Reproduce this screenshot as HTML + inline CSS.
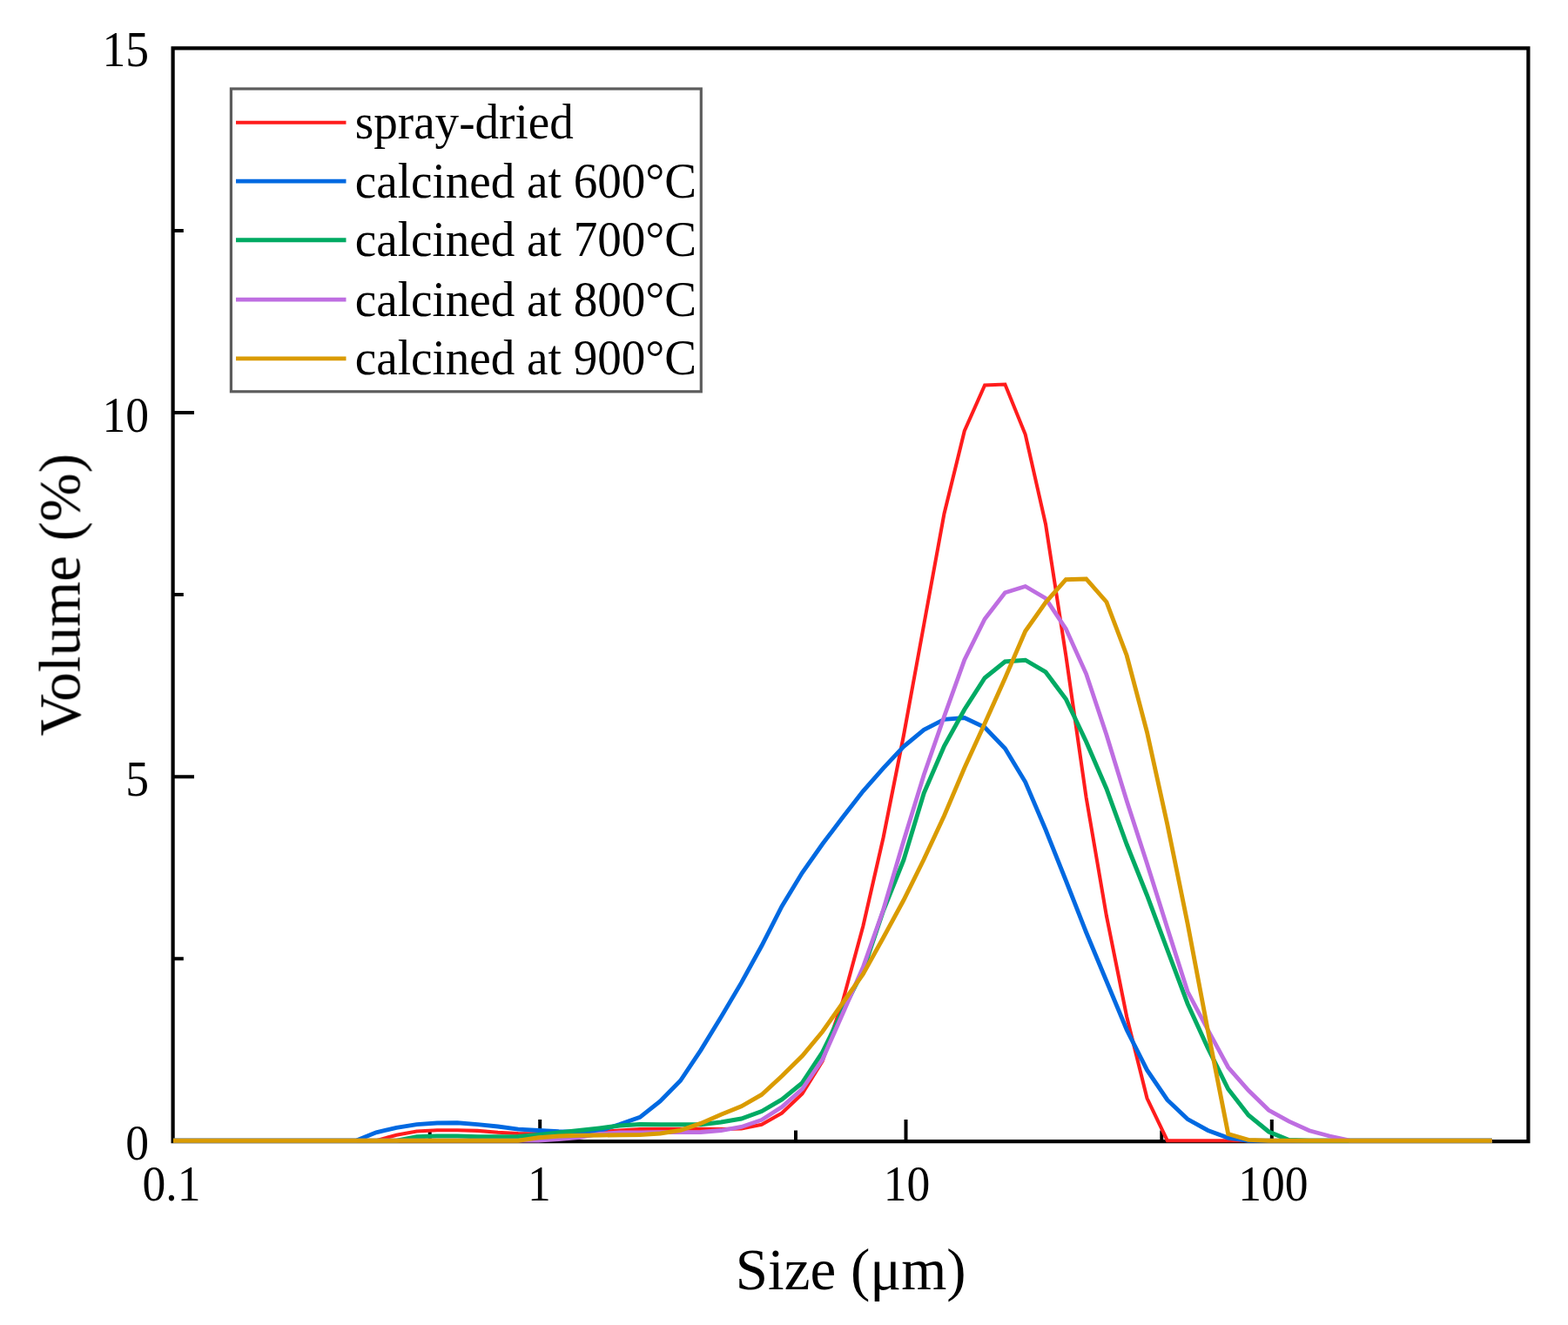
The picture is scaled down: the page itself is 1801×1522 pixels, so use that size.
<!DOCTYPE html>
<html><head><meta charset="utf-8"><title>Particle size distribution</title>
<style>html,body{margin:0;padding:0;background:#fff;}svg{display:block;}
text{font-family:"Liberation Serif","Times New Roman",serif;fill:#000;}</style></head>
<body>
<svg width="1801" height="1522" viewBox="0 0 1801 1522">
<defs><filter id="soft" filterUnits="userSpaceOnUse" x="0" y="0" width="1801" height="1522"><feGaussianBlur stdDeviation="0.55"/></filter></defs>
<rect width="1801" height="1522" fill="#fff"/>
<g filter="url(#soft)">
<path d="M198.6 892.2H223.0M198.6 474.1H223.0M198.6 1101.2H210.8M198.6 683.1H210.8M198.6 265.0H210.8M620.2 1311.2V1285.9M1040.5 1311.2V1285.9M1460.8 1311.2V1285.9M493.7 1311.2V1298.5M914.0 1311.2V1298.5M1334.3 1311.2V1298.5" stroke="#000" stroke-width="4" fill="none"/>
<path d="M198.6 55.4H1755.4V1311.2H198.6Z" fill="none" stroke="#000" stroke-width="4.2" stroke-linejoin="miter"/>
<polyline points="199.0,1310.2 222.3,1310.2 245.6,1310.2 268.9,1310.2 292.2,1310.2 315.5,1310.2 338.8,1310.2 362.1,1310.2 385.5,1310.2 408.8,1310.2 432.1,1310.2 455.4,1303.8 478.7,1299.5 502.0,1298.3 525.3,1298.3 548.6,1298.9 571.9,1300.8 595.2,1302.0 618.5,1302.3 641.8,1302.0 665.1,1301.0 688.4,1300.0 711.7,1298.5 735.0,1297.0 758.3,1296.7 781.6,1296.7 804.9,1296.7 828.2,1297.0 851.5,1296.5 874.8,1291.7 898.1,1278.5 921.4,1256.5 944.7,1218.9 968.0,1150.0 991.3,1064.0 1014.6,962.0 1037.9,845.0 1061.2,717.5 1084.5,590.0 1107.8,495.0 1131.1,442.5 1154.4,441.5 1177.7,499.0 1201.0,602.0 1224.3,753.0 1247.6,916.0 1270.9,1052.0 1294.2,1168.0 1317.5,1261.6 1340.8,1310.2 1364.1,1310.2 1387.4,1310.2 1410.7,1310.2 1434.0,1310.2 1457.3,1310.2 1480.6,1310.2 1503.9,1310.2 1527.2,1310.2 1550.6,1310.2 1573.9,1310.2 1597.2,1310.2 1620.5,1310.2 1643.8,1310.2 1667.1,1310.2 1690.4,1310.2 1713.7,1310.2" fill="none" stroke="#FF1E1E" stroke-width="4.1" stroke-linejoin="miter"/>
<polyline points="199.0,1310.2 222.3,1310.2 245.6,1310.2 268.9,1310.2 292.2,1310.2 315.5,1310.2 338.8,1310.2 362.1,1310.2 385.5,1310.2 408.8,1310.2 432.1,1300.8 455.4,1295.3 478.7,1291.6 502.0,1290.0 525.3,1289.8 548.6,1291.6 571.9,1294.0 595.2,1297.1 618.5,1298.5 641.8,1299.6 665.1,1300.0 688.4,1299.0 711.7,1291.5 735.0,1283.3 758.3,1264.9 781.6,1241.3 804.9,1206.4 828.2,1168.3 851.5,1128.9 874.8,1086.5 898.1,1041.0 921.4,1002.5 944.7,969.5 968.0,938.8 991.3,908.8 1014.6,882.3 1037.9,857.5 1061.2,838.3 1084.5,826.4 1107.8,824.6 1131.1,835.6 1154.4,859.8 1177.7,898.3 1201.0,953.0 1224.3,1011.5 1247.6,1071.0 1270.9,1127.0 1294.2,1183.0 1317.5,1229.2 1340.8,1263.4 1364.1,1285.6 1387.4,1298.5 1410.7,1307.0 1434.0,1310.2 1457.3,1310.2 1480.6,1310.2 1503.9,1310.2 1527.2,1310.2 1550.6,1310.2 1573.9,1310.2 1597.2,1310.2 1620.5,1310.2 1643.8,1310.2 1667.1,1310.2 1690.4,1310.2 1713.7,1310.2" fill="none" stroke="#0069E1" stroke-width="4.9" stroke-linejoin="miter"/>
<polyline points="199.0,1310.2 222.3,1310.2 245.6,1310.2 268.9,1310.2 292.2,1310.2 315.5,1310.2 338.8,1310.2 362.1,1310.2 385.5,1310.2 408.8,1310.2 432.1,1310.2 455.4,1310.2 478.7,1305.7 502.0,1305.0 525.3,1305.0 548.6,1305.7 571.9,1305.7 595.2,1305.5 618.5,1303.5 641.8,1301.0 665.1,1298.6 688.4,1296.0 711.7,1293.0 735.0,1291.5 758.3,1291.7 781.6,1291.7 804.9,1291.7 828.2,1289.0 851.5,1285.0 874.8,1276.6 898.1,1263.0 921.4,1244.0 944.7,1208.7 968.0,1160.8 991.3,1115.0 1014.6,1046.0 1037.9,988.0 1061.2,911.0 1084.5,857.0 1107.8,815.0 1131.1,778.7 1154.4,760.0 1177.7,758.2 1201.0,771.9 1224.3,803.0 1247.6,852.0 1270.9,906.0 1294.2,970.0 1317.5,1028.5 1340.8,1091.0 1364.1,1153.0 1387.4,1204.0 1410.7,1251.0 1434.0,1281.0 1457.3,1300.0 1480.6,1309.5 1503.9,1310.2 1527.2,1310.2 1550.6,1310.2 1573.9,1310.2 1597.2,1310.2 1620.5,1310.2 1643.8,1310.2 1667.1,1310.2 1690.4,1310.2 1713.7,1310.2" fill="none" stroke="#00AA64" stroke-width="5.0" stroke-linejoin="miter"/>
<polyline points="199.0,1310.2 222.3,1310.2 245.6,1310.2 268.9,1310.2 292.2,1310.2 315.5,1310.2 338.8,1310.2 362.1,1310.2 385.5,1310.2 408.8,1310.2 432.1,1310.2 455.4,1310.2 478.7,1310.2 502.0,1310.2 525.3,1310.2 548.6,1310.2 571.9,1310.2 595.2,1310.2 618.5,1310.2 641.8,1308.5 665.1,1306.5 688.4,1302.5 711.7,1301.0 735.0,1300.8 758.3,1300.7 781.6,1300.6 804.9,1300.5 828.2,1298.5 851.5,1294.4 874.8,1286.4 898.1,1271.5 921.4,1251.0 944.7,1217.0 968.0,1164.2 991.3,1111.0 1014.6,1045.0 1037.9,966.0 1061.2,890.0 1084.5,823.0 1107.8,758.0 1131.1,711.0 1154.4,680.8 1177.7,673.5 1201.0,687.3 1224.3,722.3 1247.6,774.0 1270.9,844.0 1294.2,920.0 1317.5,992.0 1340.8,1066.0 1364.1,1139.0 1387.4,1183.0 1410.7,1226.0 1434.0,1252.5 1457.3,1275.3 1480.6,1288.1 1503.9,1298.8 1527.2,1305.0 1550.6,1310.2 1573.9,1310.2 1597.2,1310.2 1620.5,1310.2 1643.8,1310.2 1667.1,1310.2 1690.4,1310.2 1713.7,1310.2" fill="none" stroke="#BE6EE1" stroke-width="4.8" stroke-linejoin="miter"/>
<polyline points="199.0,1310.2 222.3,1310.2 245.6,1310.2 268.9,1310.2 292.2,1310.2 315.5,1310.2 338.8,1310.2 362.1,1310.2 385.5,1310.2 408.8,1310.2 432.1,1310.2 455.4,1310.2 478.7,1310.2 502.0,1310.2 525.3,1310.2 548.6,1310.2 571.9,1310.2 595.2,1310.2 618.5,1306.8 641.8,1305.0 665.1,1304.3 688.4,1304.0 711.7,1303.8 735.0,1303.6 758.3,1302.0 781.6,1298.4 804.9,1290.4 828.2,1280.2 851.5,1270.8 874.8,1257.5 898.1,1236.0 921.4,1213.0 944.7,1185.0 968.0,1152.0 991.3,1119.0 1014.6,1077.0 1037.9,1034.0 1061.2,987.0 1084.5,937.0 1107.8,882.0 1131.1,831.0 1154.4,779.0 1177.7,725.0 1201.0,692.0 1224.3,665.7 1247.6,665.0 1270.9,691.5 1294.2,753.0 1317.5,841.0 1340.8,947.0 1364.1,1061.0 1387.4,1184.0 1410.7,1302.5 1434.0,1309.4 1457.3,1310.2 1480.6,1310.2 1503.9,1310.2 1527.2,1310.2 1550.6,1310.2 1573.9,1310.2 1597.2,1310.2 1620.5,1310.2 1643.8,1310.2 1667.1,1310.2 1690.4,1310.2 1713.7,1310.2" fill="none" stroke="#DA9B00" stroke-width="4.9" stroke-linejoin="miter"/>
<rect x="265.4" y="102" width="539.9" height="347.8" fill="none" stroke="#5c5c5c" stroke-width="3.2"/>
<line x1="271" y1="140.7" x2="397.5" y2="140.7" stroke="#FF1E1E" stroke-width="4.1"/>
<text x="407.8" y="159.2" font-size="57" transform="translate(407.8 0) scale(0.967 1) translate(-407.8 0)">spray-dried</text>
<line x1="271" y1="208.1" x2="397.5" y2="208.1" stroke="#0069E1" stroke-width="4.9"/>
<text x="407.8" y="226.6" font-size="57" transform="translate(407.8 0) scale(0.967 1) translate(-407.8 0)">calcined at 600°C</text>
<line x1="271" y1="275.8" x2="397.5" y2="275.8" stroke="#00AA64" stroke-width="4.9"/>
<text x="407.8" y="294.3" font-size="57" transform="translate(407.8 0) scale(0.967 1) translate(-407.8 0)">calcined at 700°C</text>
<line x1="271" y1="344.1" x2="397.5" y2="344.1" stroke="#BE6EE1" stroke-width="4.6"/>
<text x="407.8" y="362.6" font-size="57" transform="translate(407.8 0) scale(0.967 1) translate(-407.8 0)">calcined at 800°C</text>
<line x1="271" y1="411.9" x2="397.5" y2="411.9" stroke="#DA9B00" stroke-width="4.8"/>
<text x="407.8" y="430.4" font-size="57" transform="translate(407.8 0) scale(0.967 1) translate(-407.8 0)">calcined at 900°C</text>
<text x="171" y="1332.5" font-size="57" text-anchor="end" transform="translate(171 0) scale(0.94 1) translate(-171 0)">0</text>
<text x="171" y="913.8" font-size="57" text-anchor="end" transform="translate(171 0) scale(0.94 1) translate(-171 0)">5</text>
<text x="171" y="495.9" font-size="57" text-anchor="end" transform="translate(171 0) scale(0.94 1) translate(-171 0)">10</text>
<text x="171" y="76.2" font-size="57" text-anchor="end" transform="translate(171 0) scale(0.94 1) translate(-171 0)">15</text>
<text x="197.0" y="1378.6" font-size="57" text-anchor="middle" transform="translate(197.0 0) scale(0.94 1) translate(-197.0 0)">0.1</text>
<text x="619.5" y="1378.6" font-size="57" text-anchor="middle" transform="translate(619.5 0) scale(0.94 1) translate(-619.5 0)">1</text>
<text x="1041.5" y="1378.6" font-size="57" text-anchor="middle" transform="translate(1041.5 0) scale(0.94 1) translate(-1041.5 0)">10</text>
<text x="1462.5" y="1378.6" font-size="57" text-anchor="middle" transform="translate(1462.5 0) scale(0.94 1) translate(-1462.5 0)">100</text>
<text x="977.2" y="1481.4" font-size="67" text-anchor="middle">Size (μm)</text>
<text transform="translate(91.5 683.3) rotate(-90)" x="0" y="0" font-size="67" text-anchor="middle">Volume (%)</text>
</g>
</svg>
</body></html>
